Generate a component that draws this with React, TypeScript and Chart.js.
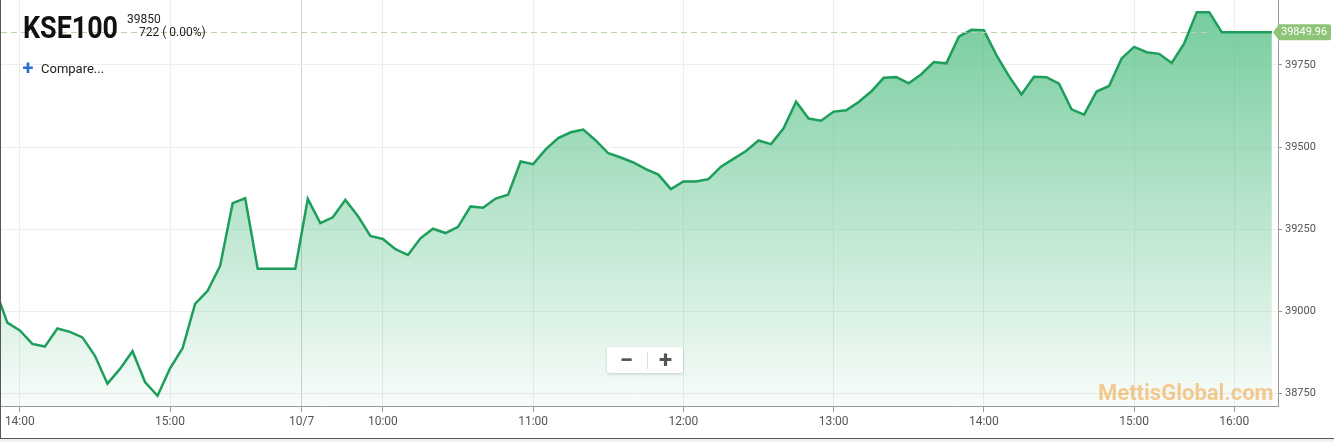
import React, { useEffect, useRef } from 'react';
import { Chart, registerables } from 'chart.js';

Chart.register(...registerables);

const symbolName = 'KSE100';
const lastCloseText = '39850';
const changeText = '722 ( 0.00%)';
const compareText = 'Compare...';
const watermarkText = 'MettisGlobal.com';
const lastValue = 39849.96;

const xTickPositions = [2, 14, 24.5, 31, 43, 55, 67, 79, 91, 99];
const xTickLabels = ['14:00', '15:00', '10/7', '10:00', '11:00', '12:00', '13:00', '14:00', '15:00', '16:00'];
const dayBreakPosition = 24.5;
const yTickValues = [38750, 39000, 39250, 39500, 39750];

const indexValues = [
  39071, 38965, 38941, 38900, 38892, 38947, 38937, 38920, 38864, 38779,
  38824, 38878, 38784, 38742, 38826, 38887, 39022, 39062, 39138, 39329,
  39344, 39129, 39129, 39129, 39129, 39342, 39268, 39286, 39339, 39290,
  39229, 39220, 39189, 39171, 39222, 39251, 39238, 39257, 39319, 39315,
  39343, 39355, 39456, 39448, 39493, 39527, 39545, 39553, 39520, 39481,
  39468, 39453, 39433, 39416, 39372, 39395, 39395, 39402, 39440, 39464,
  39488, 39520, 39509, 39557, 39638, 39587, 39580, 39608, 39612, 39637,
  39669, 39711, 39713, 39694, 39722, 39759, 39755, 39836, 39857, 39856,
  39780, 39716, 39660, 39714, 39713, 39693, 39615, 39599, 39669, 39686,
  39770, 39805, 39789, 39784, 39756, 39816, 39911, 39911, 39849.96, 39849.96,
  39849.96, 39849.96, 39849.96,
];

const FONT = 'Roboto, "Noto Sans", sans-serif';

const lastValuePlugin = {
  id: 'lastValue',
  afterDatasetsDraw(chart: any) {
    const { ctx, chartArea, scales } = chart;
    const y = Math.round(scales.y.getPixelForValue(lastValue)) + 0.5;
    let startFlat = indexValues.length - 1;
    while (startFlat > 0 && indexValues[startFlat - 1] === lastValue) startFlat--;
    const xEnd = scales.x.getPixelForValue(startFlat - 1);
    ctx.save();
    ctx.beginPath();
    ctx.rect(chartArea.left, chartArea.top, chartArea.right - chartArea.left, chartArea.bottom - chartArea.top);
    ctx.clip();
    ctx.strokeStyle = '#b9d3aa';
    ctx.lineWidth = 1;
    ctx.setLineDash([6, 4]);
    ctx.beginPath();
    ctx.moveTo(chartArea.left, y);
    ctx.lineTo(xEnd, y);
    ctx.stroke();
    ctx.restore();
  },
  afterDraw(chart: any) {
    const { ctx, chartArea, scales } = chart;
    const y = scales.y.getPixelForValue(lastValue);
    const tip = chartArea.right - 5;
    const left = chartArea.right + 1;
    const right = left + 52;
    const h = 16;
    ctx.save();
    ctx.fillStyle = '#8dc477';
    ctx.beginPath();
    ctx.moveTo(tip, y);
    ctx.lineTo(left, y - h / 2);
    ctx.lineTo(right - 2, y - h / 2);
    ctx.quadraticCurveTo(right, y - h / 2, right, y - h / 2 + 2);
    ctx.lineTo(right, y + h / 2 - 2);
    ctx.quadraticCurveTo(right, y + h / 2, right - 2, y + h / 2);
    ctx.lineTo(left, y + h / 2);
    ctx.closePath();
    ctx.fill();
    ctx.fillStyle = '#ffffff';
    ctx.font = '11px ' + FONT;
    ctx.textBaseline = 'middle';
    ctx.textAlign = 'left';
    ctx.fillText(lastValue.toFixed(2), left + 2, y + 0.5);
    ctx.restore();
  },
};

function ChartCanvas() {
  const ref = useRef<HTMLCanvasElement | null>(null);
  useEffect(() => {
    if (!ref.current) return;
    const chart = new Chart(ref.current, {
      type: 'line',
      data: {
        datasets: [
          {
            data: indexValues.map((v, i) => ({ x: i, y: v })),
            borderColor: '#1d9f5b',
            borderWidth: 2.5,
            pointRadius: 0,
            tension: 0,
            fill: 'start',
            backgroundColor: (c: any) => {
              const area = c.chart.chartArea;
              if (!area) return 'rgba(80,190,130,0.3)';
              const g = c.chart.ctx.createLinearGradient(0, area.top, 0, area.bottom);
              g.addColorStop(0, 'rgba(80,190,130,0.8)');
              g.addColorStop(1, 'rgba(80,190,130,0.04)');
              return g;
            },
          },
        ],
      },
      options: {
        animation: false,
        responsive: false,
        devicePixelRatio: 1,
        layout: { padding: 0 },
        plugins: { legend: { display: false }, tooltip: { enabled: false } },
        scales: {
          x: {
            type: 'linear',
            min: 0.497,
            max: 102.49,
            afterBuildTicks: (s: any) => {
              s.ticks = xTickPositions.map((v) => ({ value: v }));
            },
            afterFit: (s: any) => {
              s.height = 32;
              s.paddingLeft = 0;
              s.paddingRight = 0;
            },
            ticks: {
              autoSkip: false,
              maxRotation: 0,
              minRotation: 0,
              padding: 3,
              color: '#555',
              font: { family: FONT, size: 12 },
              callback: (_v: any, i: number) => xTickLabels[i],
            },
            grid: {
              color: (c: any) => (c.tick && c.tick.value === dayBreakPosition ? '#d2d2d2' : '#ececec'),
              tickColor: '#999',
              tickLength: 6,
              lineWidth: 1,
            },
            border: { color: '#999', width: 1 },
          },
          y: {
            type: 'linear',
            position: 'right',
            min: 38711,
            max: 39948,
            afterBuildTicks: (s: any) => {
              s.ticks = yTickValues.map((v) => ({ value: v }));
            },
            afterFit: (s: any) => {
              s.width = 56;
              s.paddingTop = 0;
              s.paddingBottom = 0;
            },
            ticks: {
              padding: 3,
              color: '#555',
              font: { family: FONT, size: 11 },
              callback: (v: any) => String(v),
            },
            grid: {
              color: '#eeeeee',
              tickColor: '#999',
              tickLength: 4,
            },
            border: { color: '#999', width: 1 },
          },
        },
      },
      plugins: [lastValuePlugin],
    } as any);
    return () => chart.destroy();
  }, []);
  return (
    <canvas
      ref={ref}
      width={1333}
      height={438}
      style={{ position: 'absolute', left: 0, top: 0, width: 1333, height: 438 }}
    />
  );
}

export default function App() {
  return (
    <div
      style={{
        position: 'fixed',
        left: 0,
        top: 0,
        width: 1334,
        height: 442,
        background: '#f0f0f0',
        fontFamily: FONT,
        overflow: 'hidden',
      }}
    >
      <div
        style={{
          position: 'absolute',
          left: 0,
          top: 0,
          width: 1333,
          height: 438,
          borderLeft: '1px solid #555',
          borderBottom: '1px solid #555',
          background: '#fff',
        }}
      >
        <ChartCanvas />
      </div>
      <div
        style={{
          position: 'absolute',
          left: 23,
          top: 11,
          fontSize: 32,
          lineHeight: '32px',
          fontWeight: 700,
          color: '#111',
          transform: 'scaleX(0.84)',
          transformOrigin: 'left top',
          whiteSpace: 'nowrap',
        }}
      >
        {symbolName}
      </div>
      <div style={{ position: 'absolute', left: 127, top: 13, fontSize: 12, lineHeight: '12px', color: '#222' }}>
        {lastCloseText}
      </div>
      <div style={{ position: 'absolute', left: 139, top: 26, fontSize: 12, lineHeight: '12px', color: '#222', whiteSpace: 'pre' }}>
        {changeText}
      </div>
      <div
        style={{
          position: 'absolute',
          left: 18,
          top: 58,
          width: 20,
          height: 20,
          fontSize: 20,
          lineHeight: '20px',
          fontWeight: 700,
          color: '#2b6fce',
          textAlign: 'center',
        }}
      >
        +
      </div>
      <div style={{ position: 'absolute', left: 41, top: 62, fontSize: 13, lineHeight: '13px', color: '#222' }}>
        {compareText}
      </div>
      <div
        style={{
          position: 'absolute',
          left: 607,
          top: 347,
          width: 76,
          height: 26,
          background: '#fff',
          borderRadius: 3,
          boxShadow: '0 1px 3px rgba(0,0,0,0.18)',
        }}
      >
        <div
          style={{
            position: 'absolute',
            left: 0,
            top: 0,
            width: 39,
            height: 26,
            fontSize: 24,
            lineHeight: '26px',
            fontWeight: 700,
            color: '#555',
            textAlign: 'center',
          }}
        >
          −
        </div>
        <div style={{ position: 'absolute', left: 40, top: 5, width: 1, height: 17, background: '#ddd' }} />
        <div
          style={{
            position: 'absolute',
            left: 41,
            top: 0,
            width: 35,
            height: 26,
            fontSize: 24,
            lineHeight: '26px',
            fontWeight: 700,
            color: '#555',
            textAlign: 'center',
          }}
        >
          +
        </div>
      </div>
      <div
        style={{
          position: 'absolute',
          left: 1098,
          top: 382,
          fontSize: 22,
          lineHeight: '22px',
          fontWeight: 700,
          color: 'rgba(242,160,60,0.55)',
          whiteSpace: 'nowrap',
        }}
      >
        {watermarkText}
      </div>
    </div>
  );
}
